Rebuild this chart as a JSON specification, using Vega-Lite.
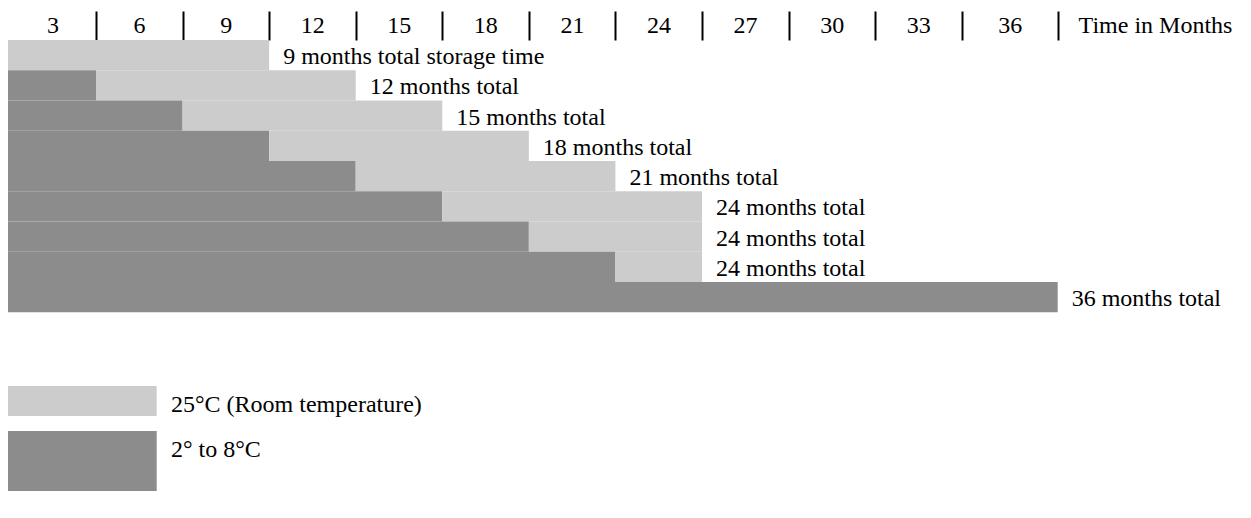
{
  "$schema": "https://vega.github.io/schema/vega-lite/v6.json",
  "width": 1251,
  "height": 478,
  "autosize": {"type": "none"},
  "padding": {"top": 40, "left": 0, "right": 0, "bottom": 0},
  "background": "white",
  "config": {"view": {"stroke": null}, "font": "'Liberation Serif', 'Times New Roman', serif"},
  "datasets": {
    "segments": [
      {"row": 1, "condition": "25°C (Room temperature)", "from": 0, "to": 9},
      {"row": 2, "condition": "2° to 8°C", "from": 0, "to": 3},
      {"row": 2, "condition": "25°C (Room temperature)", "from": 3, "to": 12},
      {"row": 3, "condition": "2° to 8°C", "from": 0, "to": 6},
      {"row": 3, "condition": "25°C (Room temperature)", "from": 6, "to": 15},
      {"row": 4, "condition": "2° to 8°C", "from": 0, "to": 9},
      {"row": 4, "condition": "25°C (Room temperature)", "from": 9, "to": 18},
      {"row": 5, "condition": "2° to 8°C", "from": 0, "to": 12},
      {"row": 5, "condition": "25°C (Room temperature)", "from": 12, "to": 21},
      {"row": 6, "condition": "2° to 8°C", "from": 0, "to": 15},
      {"row": 6, "condition": "25°C (Room temperature)", "from": 15, "to": 24},
      {"row": 7, "condition": "2° to 8°C", "from": 0, "to": 18},
      {"row": 7, "condition": "25°C (Room temperature)", "from": 18, "to": 24},
      {"row": 8, "condition": "2° to 8°C", "from": 0, "to": 21},
      {"row": 8, "condition": "25°C (Room temperature)", "from": 21, "to": 24},
      {"row": 9, "condition": "2° to 8°C", "from": 0, "to": 36}
    ],
    "totals": [
      {"row": 1, "total": 9, "label": "9 months total storage time"},
      {"row": 2, "total": 12, "label": "12 months total"},
      {"row": 3, "total": 15, "label": "15 months total"},
      {"row": 4, "total": 18, "label": "18 months total"},
      {"row": 5, "total": 21, "label": "21 months total"},
      {"row": 6, "total": 24, "label": "24 months total"},
      {"row": 7, "total": 24, "label": "24 months total"},
      {"row": 8, "total": 24, "label": "24 months total"},
      {"row": 9, "total": 36, "label": "36 months total"}
    ]
  },
  "layer": [
    {
      "data": {"name": "segments"},
      "mark": {"type": "rect"},
      "encoding": {
        "x": {
          "field": "from",
          "type": "quantitative",
          "scale": {"type": "linear", "domain": [0, 3, 33, 36], "range": [8, 96, 961.7, 1057.7], "nice": false, "zero": false},
          "axis": {
            "orient": "top",
            "values": [3, 6, 9, 12, 15, 18, 21, 24, 27, 30, 33, 36],
            "tickSize": 29,
            "tickWidth": 2,
            "tickColor": "black",
            "domain": false,
            "grid": false,
            "labelFont": "'Liberation Serif', 'Times New Roman', serif",
            "labelFontSize": 24,
            "labelColor": "black",
            "labelBaseline": "middle",
            "labelAlign": "center",
            "labelPadding": -14.2,
            "labelOffset": {"condition": {"test": "datum.value === 36", "value": -48}, "value": -43.5},
            "labelFlush": false,
            "labelOverlap": false,
            "labelBound": false,
            "title": "Time in Months",
            "titleFont": "'Liberation Serif', 'Times New Roman', serif",
            "titleFontSize": 24,
            "titleFontWeight": "normal",
            "titleColor": "black",
            "titleX": 1155,
            "titleY": -14.8,
            "titleAlign": "center",
            "titleBaseline": "middle"
          }
        },
        "x2": {"field": "to"},
        "y": {
          "field": "row",
          "type": "ordinal",
          "scale": {"range": [0, 272.25], "paddingInner": 0, "paddingOuter": 0},
          "axis": null
        },
        "color": {
          "field": "condition",
          "type": "nominal",
          "scale": {"domain": ["25°C (Room temperature)", "2° to 8°C"], "range": ["#cccccc", "#8c8c8c"]},
          "legend": {
            "orient": "none",
            "legendX": 8,
            "legendY": 346,
            "title": null,
            "padding": 0,
            "offset": 0,
            "direction": "vertical",
            "symbolType": "M-1,-1H8.913V1H-1Z",
            "symbolSize": 900,
            "symbolStrokeWidth": 0,
            "symbolOpacity": 1,
            "labelFont": "'Liberation Serif', 'Times New Roman', serif",
            "labelFontSize": 24,
            "labelColor": "black",
            "labelLimit": 1000,
            "labelOffset": 133,
            "rowPadding": 14,
            "encode": {
              "labels": {"update": {"dy": {"value": 4}}},
              "symbols": {"update": {"shape": {"signal": "datum.value === '2° to 8°C' ? 'M-1,-1H8.913V3H-1Z' : 'M-1,-1H8.913V1H-1Z'"}}}
            }
          }
        }
      }
    },
    {
      "data": {"name": "totals"},
      "mark": {"type": "text", "align": "left", "baseline": "middle", "dx": 14, "dy": 2, "fontSize": 24, "font": "'Liberation Serif', 'Times New Roman', serif", "color": "black"},
      "encoding": {
        "x": {"field": "total", "type": "quantitative"},
        "y": {"field": "row", "type": "ordinal"},
        "text": {"field": "label"}
      }
    }
  ]
}
